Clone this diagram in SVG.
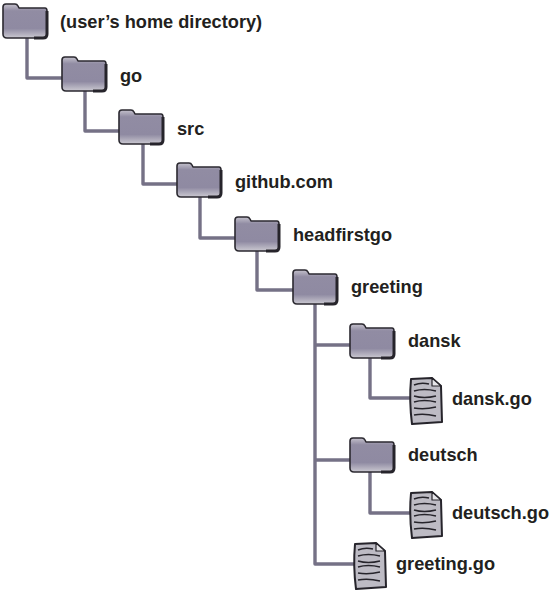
<svg xmlns="http://www.w3.org/2000/svg" xmlns:xlink="http://www.w3.org/1999/xlink" width="550" height="592" viewBox="0 0 550 592">
<style>
text{font-family:"Liberation Sans",Arial,sans-serif;font-weight:bold;font-size:18.2px;fill:#231f20}
.c{fill:none;stroke:#757186;stroke-width:3.4;stroke-linejoin:round}
</style>
<defs>
<linearGradient id="fg" x1="0" y1="0" x2="0" y2="1"><stop offset="0" stop-color="#c4c1cc"/><stop offset=".2" stop-color="#918ca3"/><stop offset=".72" stop-color="#8f8aa2"/><stop offset="1" stop-color="#cbc9d1"/></linearGradient>
<g id="folder">
<path d="M1 4 Q1 1 4 1 L13 1 Q15 1 16 3 L17 5 L43 5 Q45 5 45 8 L45 31 Q45 35 41 35 L5 35 Q1 35 1 31 Z" fill="url(#fg)" stroke="#2b2930" stroke-width="1.6" stroke-linejoin="round"/>
<path d="M45 8 L45 31 Q45 35 41 35 L32 35" fill="none" stroke="#26242b" stroke-width="3"/>
</g>
<g id="file">
<path d="M3 2 L24 1 L33 9 L34 45 L4 47 Q1 24 3 2 Z" fill="#bdbbc4" stroke="#26242b" stroke-width="2" stroke-linejoin="round"/>
<path d="M24 1 L24 9 L33 9 Z" fill="#e6e5e9" stroke="#26242b" stroke-width="1.2" stroke-linejoin="round"/>
<path d="M6 8 Q13 5 21 7 M6 14 Q16 11 28 14 M6 19 Q16 22 28 19 M6 25 Q16 22 28 25 M6 31 Q16 33 28 30 M6 38 Q16 36 28 39" fill="none" stroke="#26242b" stroke-width="1.5"/>
</g>
</defs>
<g id="connectors">
<path class="c" d="M27 38V78H62"/>
<path class="c" d="M85 90V131H120"/>
<path class="c" d="M143 143V184H178"/>
<path class="c" d="M200 196V238H236"/>
<path class="c" d="M257 250V290H294"/>
<path class="c" d="M315 303V564H354M315 345H351M315 460H351"/>
<path class="c" d="M370 358V398H410"/>
<path class="c" d="M370 472V513H410"/>
</g>
<g id="home"><use xlink:href="#folder" href="#folder" x="2" y="3"/><text x="60" y="28">(user’s home directory)</text></g>
<g id="go"><use xlink:href="#folder" href="#folder" x="61" y="56"/><text x="120" y="82">go</text></g>
<g id="src"><use xlink:href="#folder" href="#folder" x="118" y="109"/><text x="177" y="135">src</text></g>
<g id="github"><use xlink:href="#folder" href="#folder" x="176" y="162"/><text x="235" y="188">github.com</text></g>
<g id="headfirstgo"><use xlink:href="#folder" href="#folder" x="234" y="216"/><text x="293" y="241">headfirstgo</text></g>
<g id="greeting"><use xlink:href="#folder" href="#folder" x="292" y="269"/><text x="351" y="293">greeting</text></g>
<g id="dansk"><use xlink:href="#folder" href="#folder" x="349" y="323"/><text x="408" y="347">dansk</text></g>
<g id="dansk-go"><use xlink:href="#file" href="#file" x="408" y="377"/><text x="452" y="405">dansk.go</text></g>
<g id="deutsch"><use xlink:href="#folder" href="#folder" x="349" y="437"/><text x="408" y="461">deutsch</text></g>
<g id="deutsch-go"><use xlink:href="#file" href="#file" x="408" y="491"/><text x="452" y="519">deutsch.go</text></g>
<g id="greeting-go"><use xlink:href="#file" href="#file" x="352" y="542"/><text x="396" y="570">greeting.go</text></g>
</svg>
